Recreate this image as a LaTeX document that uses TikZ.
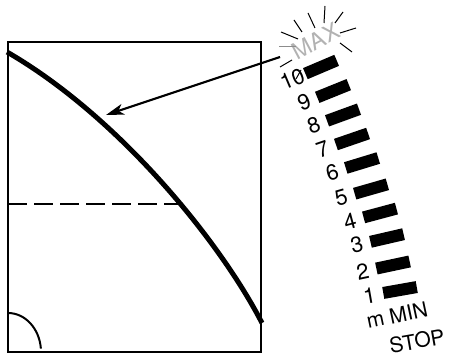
\documentclass[tikz,border=0pt]{standalone}
\usepackage{fontspec}
\setmainfont{TeX Gyre Heros}
\usetikzlibrary{arrows.meta,positioning}

\begin{document}
\begin{tikzpicture}[
    x=1pt, y=1pt,
    frame/.style={draw=black, line width=1.6pt},
    curve/.style={draw=black, line width=5pt},
    level/.style={draw=black, line width=2.5pt, dash pattern=on 19pt off 7pt},
    corner/.style={draw=black, line width=2pt},
    pointer/.style={draw=black, line width=2.2pt, -{Stealth[length=18pt,width=11pt,inset=5pt]}},
    levelbar/.style={rectangle, fill=black, minimum width=34pt, minimum height=12pt, inner sep=0pt},
    digit/.style={inner sep=0pt, font=\fontsize{22}{22}\selectfont},
    caption/.style={inner sep=0pt, font=\fontsize{21}{21}\selectfont},
    ray/.style={draw=black, line width=1pt}
]

\useasboundingbox (0,0) rectangle (449,358);

% Frame and curve
\draw[frame] (8,6) rectangle (261,316);
\draw[curve] (7,306) .. controls (119.6,241) and (221,115) .. (262,35);
\draw[level] (8,154) -- (180.5,154);
\draw[corner] (8,45) arc[start angle=90, end angle=5, x radius=33, y radius=39];

% Scale bars
\foreach \n/\x/\y/\a in {10/321/291/23, 9/333/267/22, 8/343/243/20, 7/352/219/19, 6/362/195/17,
                         5/371/169/16, 4/380/145/15, 3/387/120/13, 2/393/93/12, 1/400/68/10} {
    \node[levelbar, rotate=\a] (bar\n) at (\x,\y) {};
    \node[digit, rotate=\a] (num\n) at ([shift={(\a+180:31pt)}]bar\n.center) {\n};
}

% MAX and its sparkle
\node[caption, text=black!30, rotate=28, font=\fontsize{23}{23}\selectfont] (max) at (316,317) {MAX};
\foreach \xa/\ya/\xb/\yb in {281/326/298/319, 294/338/302/326, 308/345/315/330, 325/352/324/335,
                             343/346/335/335, 340/325/356/330, 340/315/352/306, 280/291/292/298,
                             296/279/301/288} {
    \draw[ray] (\xa,\ya) -- (\xb,\yb);
}
\draw[ray, draw=black!45] (279,311) -- (296,311);

% Bottom labels
\node[caption, rotate=12] (min) at (397,43) {m MIN};
\node[caption, rotate=10] (stop) at (417,17) {STOP};

% Arrow
\coordinate (tail) at (280,301);
\coordinate (tip) at (106,243);
\draw[pointer] (tail) -- (tip);

\end{tikzpicture}
\end{document}
